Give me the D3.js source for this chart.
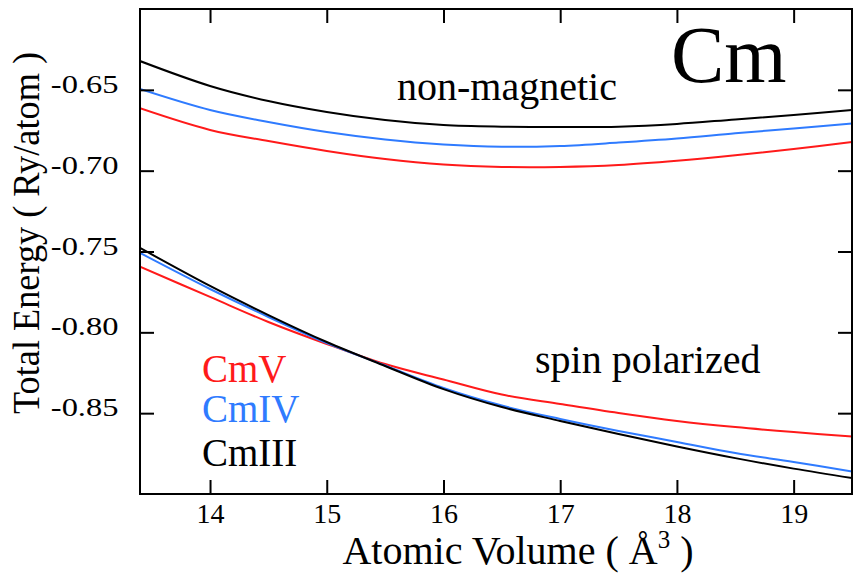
<!DOCTYPE html>
<html>
<head>
<meta charset="utf-8">
<script src="https://cdn.jsdelivr.net/npm/d3@7"></script>
<style>
  html, body { margin: 0; padding: 0; background: #fff; }
  svg { display: block; }
  svg text { font-family: "Liberation Serif", "Times New Roman", Times, serif; }
</style>
</head>
<body>
<svg id="chart" width="854" height="575"></svg>
<script>
// ---- data ----
const xTicks = [14, 15, 16, 17, 18, 19];
const yTicks = [-0.65, -0.70, -0.75, -0.80, -0.85];
const volume = [13.4, 14.0, 14.5, 15.0, 15.5, 16.0, 16.5, 17.0, 17.5, 18.0, 18.5, 19.0, 19.5];

// non-magnetic
const nmCmIII = [-0.6322, -0.6476, -0.6569, -0.6637, -0.6687, -0.6718, -0.6728, -0.6730, -0.6728, -0.6711, -0.6683, -0.6656, -0.6625];
const nmCmIV  = [-0.6495, -0.6625, -0.6699, -0.6761, -0.6807, -0.6838, -0.6852, -0.6847, -0.6826, -0.6801, -0.6769, -0.6739, -0.6708];
const nmCmV   = [-0.6614, -0.6748, -0.6817, -0.6878, -0.6928, -0.6962, -0.6977, -0.6977, -0.6965, -0.6939, -0.6905, -0.6866, -0.6823];

// spin polarized
const spCmIII = [-0.7478, -0.7713, -0.7893, -0.8060, -0.8208, -0.8351, -0.8462, -0.8548, -0.8629, -0.8706, -0.8778, -0.8843, -0.8901];
const spCmIV  = [-0.7509, -0.7732, -0.7905, -0.8066, -0.8205, -0.8344, -0.8453, -0.8536, -0.8610, -0.8678, -0.8747, -0.8802, -0.8861];
const spCmV   = [-0.7594, -0.7781, -0.7936, -0.8072, -0.8196, -0.8292, -0.8385, -0.8443, -0.8499, -0.8548, -0.8586, -0.8617, -0.8644];

const seriesNames = ["CmV", "CmIV", "CmIII"];
const seriesColors = ["#ff1a1a", "#2f7bff", "#000000"];

// ---- layout ----
const svg = d3.select("#chart");
const L = 140, R = 852, T = 9, B = 494;
const FONT = "Liberation Serif, Times New Roman, serif";

const x = d3.scaleLinear().domain([13.4, 19.5]).range([L, R]);
const y = d3.scaleLinear().domain([-0.90, -0.60]).range([B, T]);

svg.append("defs").append("clipPath").attr("id", "clip")
  .append("rect").attr("x", L).attr("y", T).attr("width", R - L).attr("height", B - T);

// curves
const line = d3.line()
  .x(d => x(d[0]))
  .y(d => y(d[1]))
  .curve(d3.curveCatmullRom.alpha(0.5));

const curves = [
  { v: nmCmV, c: seriesColors[0] },
  { v: nmCmIV, c: seriesColors[1] },
  { v: nmCmIII, c: seriesColors[2] },
  { v: spCmV, c: seriesColors[0] },
  { v: spCmIV, c: seriesColors[1] },
  { v: spCmIII, c: seriesColors[2] }
];

const gLines = svg.append("g").attr("clip-path", "url(#clip)");
curves.forEach(s => {
  gLines.append("path")
    .datum(volume.map((v, i) => [v, s.v[i]]))
    .attr("d", line)
    .attr("fill", "none")
    .attr("stroke", s.c)
    .attr("stroke-width", 2);
});

// axes (inward ticks)
const tickLen = 14;
const styleAxis = g => {
  g.select(".domain").remove();
  g.selectAll(".tick line").attr("stroke", "#000").attr("stroke-width", 2);
};

svg.append("g")
  .attr("transform", `translate(0,${B})`)
  .call(d3.axisBottom(x).tickValues(xTicks).tickSizeInner(-tickLen).tickSizeOuter(0).tickPadding(9).tickFormat(d3.format("d")))
  .call(styleAxis)
  .call(g => g.selectAll(".tick text").attr("font-size", 28).attr("fill", "#000")
    .attr("font-family", FONT));

svg.append("g")
  .attr("transform", `translate(0,${T})`)
  .call(d3.axisTop(x).tickValues(xTicks).tickSizeInner(-tickLen).tickSizeOuter(0).tickFormat(""))
  .call(styleAxis);

svg.append("g")
  .attr("transform", `translate(${L},0)`)
  .call(d3.axisLeft(y).tickValues(yTicks).tickSizeInner(-tickLen).tickSizeOuter(0).tickFormat(d => d.toFixed(2)))
  .call(styleAxis)
  .call(g => g.selectAll(".tick text")
    .attr("font-size", 26).attr("fill", "#000")
    .attr("font-family", FONT)
    .attr("x", -17.2).attr("dy", "0.1em")
    .attr("transform", "scale(1.25,1)"));

svg.append("g")
  .attr("transform", `translate(${R},0)`)
  .call(d3.axisRight(y).tickValues(yTicks).tickSizeInner(-tickLen).tickSizeOuter(0).tickFormat(""))
  .call(styleAxis);

// frame
svg.append("rect")
  .attr("x", L).attr("y", T).attr("width", R - L).attr("height", B - T)
  .attr("fill", "none").attr("stroke", "#000").attr("stroke-width", 2);

// axis titles
const xt = svg.append("text")
  .attr("x", 518).attr("y", 564)
  .attr("text-anchor", "middle")
  .attr("font-family", FONT)
  .attr("font-size", 40).attr("fill", "#000");
xt.append("tspan").text("Atomic Volume ( Å");
xt.append("tspan").attr("font-size", 25).attr("dy", -16).text("3");
xt.append("tspan").attr("dy", 16).text(" )");

svg.append("text")
  .attr("transform", "translate(39,233) rotate(-90)")
  .attr("text-anchor", "middle")
  .attr("font-family", FONT)
  .attr("font-size", 38)
  .attr("textLength", 362).attr("lengthAdjust", "spacingAndGlyphs")
  .attr("fill", "#000")
  .text("Total Energy ( Ry/atom )");

// annotations
svg.append("text").attr("x", 671).attr("y", 82).attr("font-family", FONT).attr("font-size", 80).attr("fill", "#000").text("Cm");
svg.append("text").attr("x", 397).attr("y", 100).attr("font-family", FONT).attr("font-size", 40).attr("fill", "#000").text("non-magnetic");
svg.append("text").attr("x", 535).attr("y", 373).attr("font-family", FONT).attr("font-size", 40).attr("fill", "#000").text("spin polarized");

// legend
const legendY = [382, 422, 466];
seriesNames.forEach((n, i) => {
  svg.append("text")
    .attr("x", 202).attr("y", legendY[i])
    .attr("font-family", FONT)
    .attr("font-size", 39)
    .attr("fill", seriesColors[i])
    .text(n);
});
</script>
</body>
</html>
